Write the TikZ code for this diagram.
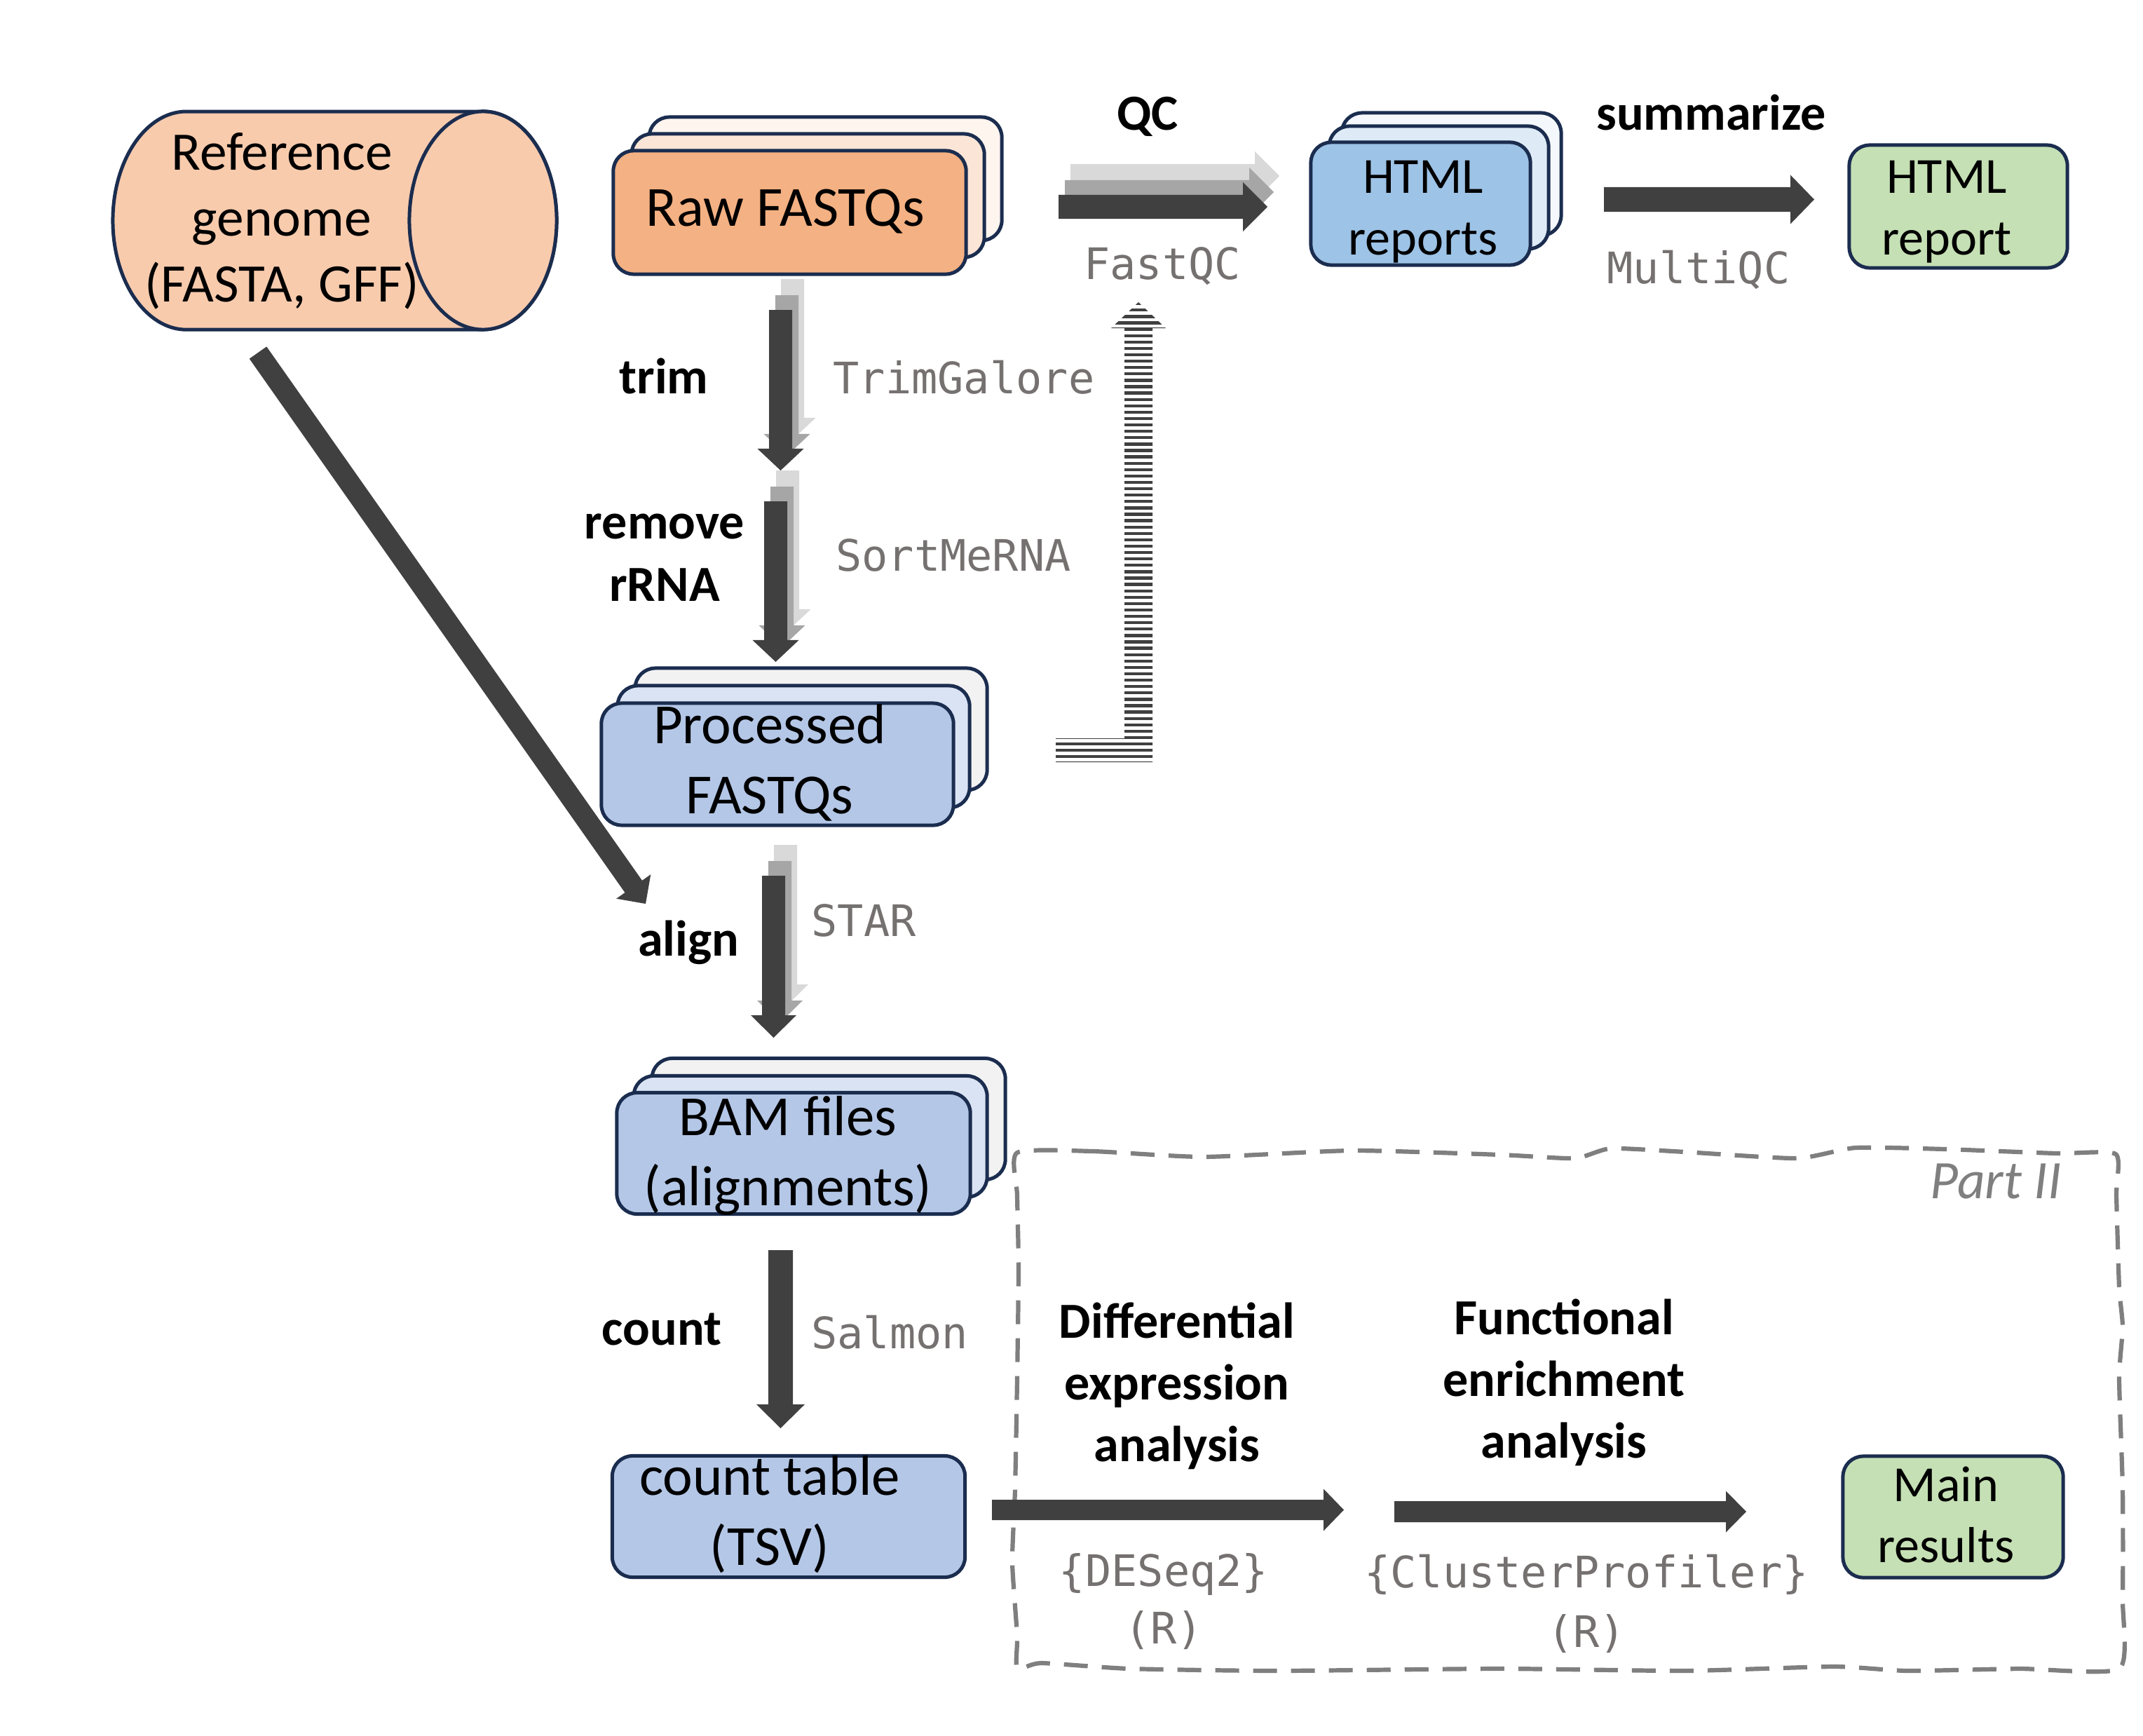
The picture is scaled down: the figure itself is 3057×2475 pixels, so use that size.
\documentclass[tikz,border=0pt]{standalone}
\usepackage{fontspec}
\setmainfont{Carlito}
\newfontfamily\monof{DejaVu Sans Mono}
\usetikzlibrary{calc}
\definecolor{navy}{HTML}{1B2D4F}
\definecolor{darkarr}{HTML}{404040}
\definecolor{midarr}{HTML}{A6A6A6}
\definecolor{lightarr}{HTML}{D9D9D9}
\definecolor{toolgray}{HTML}{767171}
\definecolor{orangeA}{HTML}{F4B183}
\definecolor{orangeB}{HTML}{FBE5D6}
\definecolor{orangeC}{HTML}{FEF5EF}
\definecolor{cylfill}{HTML}{F8CBAD}
\definecolor{blueA}{HTML}{9DC3E6}
\definecolor{blueB}{HTML}{DEEBF7}
\definecolor{blueC}{HTML}{F4F8FC}
\definecolor{steelA}{HTML}{B4C7E7}
\definecolor{steelB}{HTML}{DAE3F3}
\definecolor{steelC}{HTML}{F2F2F2}
\definecolor{greenA}{HTML}{C5E0B4}
\definecolor{dashgray}{HTML}{7F7F7F}

\tikzset{
  box/.style={draw=navy, line width=0.05cm, rounded corners=0.29cm, inner sep=0pt},
  bigtxt/.style={font=\fontsize{23pt}{28.2pt}\selectfont, align=center, anchor=base, inner sep=0pt},
  midtxt/.style={font=\fontsize{20.5pt}{25pt}\selectfont, align=center, anchor=base, inner sep=0pt},
  lbl/.style={font=\fontsize{20.5pt}{25pt}\selectfont\bfseries, align=center, anchor=base, inner sep=0pt},
  tool/.style={font=\monof\fontsize{17.6pt}{23.3pt}\selectfont, text=toolgray, align=center, anchor=base, inner sep=0pt},
  dashbox/.style={draw=dashgray, line width=0.062cm, dash pattern=on 0.34cm off 0.2cm},
}

% start, end, half shaft width, half head width, head length, colour
\newcommand{\blockarrow}[6]{%
  \coordinate (#1#2base) at ($(#2)!#5!(#1)$);
  \fill[#6] ($(#1)!#3!90:(#2)$) -- ($(#1#2base)!#3!90:(#2)$) -- ($(#1#2base)!#4!90:(#2)$)
    -- (#2) -- ($(#1#2base)!#4!-90:(#2)$) -- ($(#1#2base)!#3!-90:(#2)$) -- ($(#1)!#3!-90:(#2)$) -- cycle;}
\newcommand{\tripleblock}[5]{%
  \coordinate (#1L) at ($(#1)+(17,-44)$); \coordinate (#2L) at ($(#2)+(17,-44)$);
  \coordinate (#1M) at ($(#1)+(9,-21)$); \coordinate (#2M) at ($(#2)+(9,-21)$);
  \blockarrow{#1L}{#2L}{#3}{#4}{#5}{lightarr}
  \blockarrow{#1M}{#2M}{#3}{#4}{#5}{midarr}
  \blockarrow{#1}{#2}{#3}{#4}{#5}{darkarr}}

\begin{document}
\begin{tikzpicture}[x=0.01cm,y=-0.01cm]
\useasboundingbox (0,0) rectangle (3057,2475);

% ---------- Part II dashed region ----------
\draw[dashbox] plot[smooth cycle, tension=0.35] coordinates {
 (1451,1644) (1559,1642) (1717,1650) (1929,1641) (2140,1647) (2246,1652) (2298,1638)
 (2404,1643) (2563,1652) (2647,1637) (2774,1639) (2933,1645) (3018,1646)
 (3019,1705) (3023,1836) (3028,1893) (3023,1966) (3028,2124) (3028,2281) (3023,2380)
 (2880,2380) (2721,2383) (2616,2377) (2404,2383) (2140,2380) (1823,2383) (1611,2380) (1485,2372) (1451,2380)
 (1451,2333) (1444,2228) (1448,2124) (1451,1966) (1453,1809) (1451,1705)};
\node[font=\itshape\fontsize{22pt}{26pt}\selectfont, text=dashgray, anchor=base, inner sep=0pt] (part) at (2847,1709) {Part II};

% ---------- reference genome cylinder ----------
\path[fill=cylfill, draw=navy, line width=0.05cm] (689,159) -- (266,159)
  arc[start angle=90, end angle=270, x radius=1.05cm, y radius=1.555cm] -- (689,470)
  arc[start angle=-90, end angle=90, x radius=1.05cm, y radius=1.555cm] -- cycle;
\draw[fill=cylfill, draw=navy, line width=0.05cm] (689,314.5) ellipse[x radius=1.05cm, y radius=1.555cm];
\node[bigtxt, font=\fontsize{22pt}{26.6pt}\selectfont] (ref) at (402,430) {Reference\\genome\\(FASTA, GFF)};

% ---------- boxes ----------
\node[box, fill=orangeC, minimum width=5.03cm, minimum height=1.76cm] (rawC) at (1177.5,255) {};
\node[box, fill=orangeB, minimum width=5.03cm, minimum height=1.76cm] (rawB) at (1152.5,279) {};
\node[box, fill=orangeA, minimum width=5.03cm, minimum height=1.76cm] (raw) at (1126.5,303) {};
\node[bigtxt] (rawT) at (1120,322) {Raw FASTQs};

\node[box, fill=blueC, minimum width=3.13cm, minimum height=1.75cm] (htmlsC) at (2070.5,248.5) {};
\node[box, fill=blueB, minimum width=3.13cm, minimum height=1.75cm] (htmlsB) at (2052.5,267.5) {};
\node[box, fill=blueA, minimum width=3.13cm, minimum height=1.75cm] (htmls) at (2026.5,290.5) {};
\node[midtxt] (htmlsT) at (2030,363) {HTML\\reports};

\node[box, fill=greenA, minimum width=3.11cm, minimum height=1.75cm] (htmlr) at (2793.5,294.5) {};
\node[midtxt] (htmlrT) at (2777,363) {HTML\\report};

\node[box, fill=steelC, minimum width=5.02cm, minimum height=1.74cm] (procC) at (1157,1040) {};
\node[box, fill=steelB, minimum width=5.02cm, minimum height=1.74cm] (procB) at (1132,1065) {};
\node[box, fill=steelA, minimum width=5.02cm, minimum height=1.74cm] (proc) at (1109,1090) {};
\node[bigtxt] (procT) at (1098,1160) {Processed\\FASTQs};

\node[box, fill=steelC, minimum width=5.04cm, minimum height=1.73cm] (bamC) at (1182,1596) {};
\node[box, fill=steelB, minimum width=5.04cm, minimum height=1.73cm] (bamB) at (1156,1621) {};
\node[box, fill=steelA, minimum width=5.04cm, minimum height=1.73cm] (bam) at (1132,1645) {};
\node[bigtxt] (bamT) at (1124,1719) {BAM files\\(alignments)};

\node[box, fill=steelA, minimum width=5.03cm, minimum height=1.73cm] (cnt) at (1125,2163) {};
\node[bigtxt] (cntT) at (1098,2232) {count table\\(TSV)};

\node[box, fill=greenA, minimum width=3.14cm, minimum height=1.73cm] (res) at (2786,2163.5) {};
\node[midtxt, font=\fontsize{20.5pt}{24.5pt}\selectfont] (resT) at (2776,2228) {Main\\results};

% ---------- arrow end points ----------
\coordinate (qcS) at (1510,295);     \coordinate (qcE) at (1808,295);
\coordinate (sumS) at (2288,284.5);  \coordinate (sumE) at (2588,284.5);
\coordinate (trimS) at (1113.5,442); \coordinate (trimE) at (1113.5,671);
\coordinate (rrnaS) at (1106.5,715); \coordinate (rrnaE) at (1106.5,944);
\coordinate (alnS) at (1103.5,1249); \coordinate (alnE) at (1103.5,1480);
\coordinate (cntS) at (1113.5,1783); \coordinate (cntE) at (1113.5,2037);
\coordinate (deS) at (1415,2153.5);  \coordinate (deE) at (1917,2153.5);
\coordinate (feS) at (1989,2156);    \coordinate (feE) at (2491,2156);
\coordinate (refS) at (368,503);     \coordinate (refE) at (921,1289);

% ---------- arrows ----------
\tripleblock{qcS}{qcE}{0.17cm}{0.35cm}{0.35cm}
\blockarrow{sumS}{sumE}{0.175cm}{0.35cm}{0.34cm}{darkarr}
\tripleblock{trimS}{trimE}{0.165cm}{0.33cm}{0.31cm}
\tripleblock{rrnaS}{rrnaE}{0.165cm}{0.33cm}{0.31cm}
\tripleblock{alnS}{alnE}{0.165cm}{0.325cm}{0.32cm}
\blockarrow{cntS}{cntE}{0.175cm}{0.345cm}{0.34cm}{darkarr}
\blockarrow{deS}{deE}{0.145cm}{0.30cm}{0.29cm}{darkarr}
\blockarrow{feS}{feE}{0.15cm}{0.295cm}{0.29cm}{darkarr}
\blockarrow{refS}{refE}{0.15cm}{0.30cm}{0.30cm}{darkarr}

% striped QC arrow from processed reads
\coordinate (fqS) at (1506,1070); \coordinate (fqE) at (1624,431);
\begin{scope}
  \clip (fqS |- 0,1053) -- (1604,1053) -- (1604,468) -- (1585,468) -- (fqE) -- (1663,468)
    -- (1644,468) -- (1644,1087) -- (fqS |- 0,1087) -- cycle;
  \foreach \i [evaluate=\i as \y using 431+9.1*\i] in {0,...,72}
    \fill[darkarr] (1500,\y) rectangle (1670,\y+4.3);
\end{scope}

% ---------- labels ----------
\node[lbl] (lQC) at (1637,185) {QC};
\node[lbl] (lsum) at (2441,185) {summarize};
\node[tool] (tFastQC) at (1658,398) {FastQC};
\node[tool] (tMultiQC) at (2423,404) {MultiQC};
\node[lbl] (ltrim) at (947,561) {trim};
\node[tool] (tTrim) at (1375,561) {TrimGalore};
\node[lbl, font=\fontsize{20.5pt}{25.3pt}\selectfont\bfseries] (lrrna) at (948,857) {remove\\rRNA};
\node[tool] (tSort) at (1360,814) {SortMeRNA};
\node[lbl] (lalign) at (982,1363) {align};
\node[tool] (tSTAR) at (1232,1335) {STAR};
\node[lbl] (lcount) at (944,1918) {count};
\node[tool] (tSalmon) at (1269,1923) {Salmon};
\node[lbl] (lDE) at (1679,2084) {Differential\\expression\\analysis};
\node[tool] (tDE) at (1660,2344) {\{DESeq2\}\\(R)};
\node[lbl] (lFE) at (2231,2079) {Functional\\enrichment\\analysis};
\node[tool, font=\monof\fontsize{17.6pt}{23.9pt}\selectfont] (tFE) at (2263,2349) {\{ClusterProfiler\}\\(R)};
\end{tikzpicture}
\end{document}
